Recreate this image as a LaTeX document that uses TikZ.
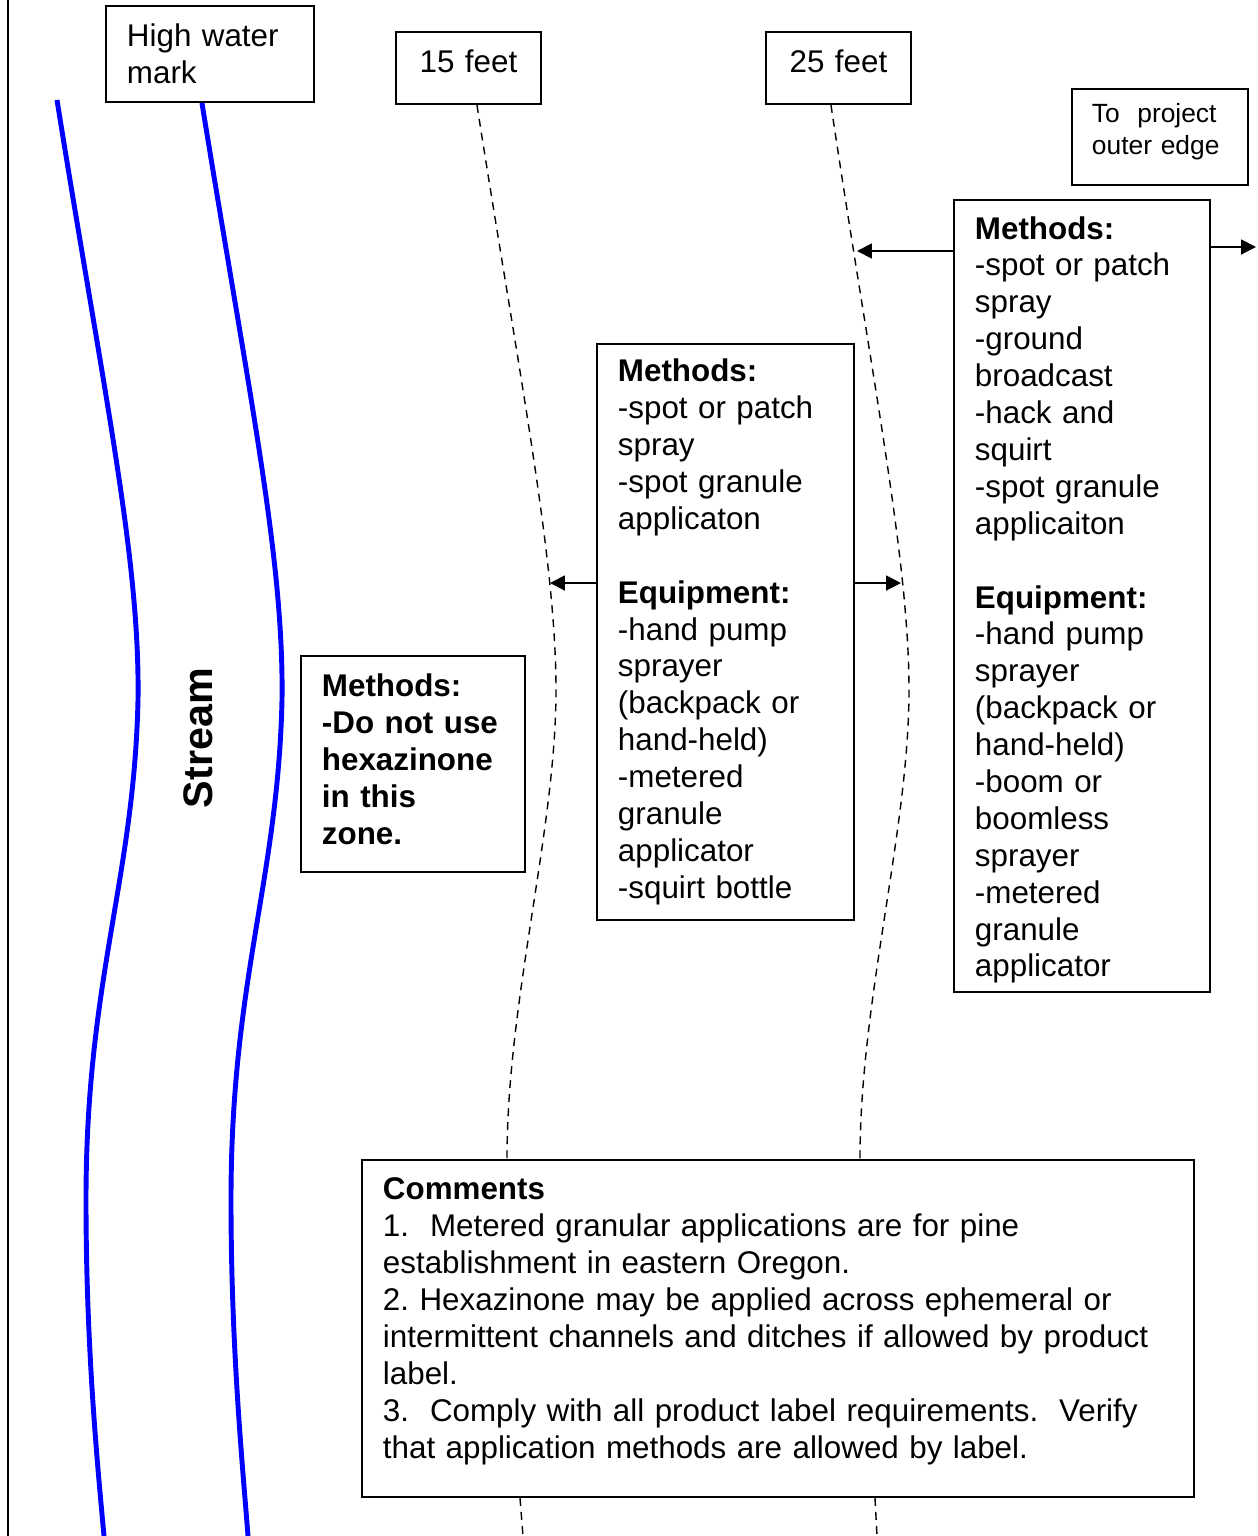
\documentclass[tikz,border=0pt]{standalone}
\usepackage{fontspec}
\setmainfont{Liberation Sans}
\frenchspacing
\usetikzlibrary{arrows.meta,positioning}
\newcommand{\txt}{\fontsize{17.85}{21}\selectfont}

\begin{document}
\begin{tikzpicture}[x=0.02cm, y=-0.02cm,
  box/.style={draw, line width=1.1pt, anchor=north west, align=left, inner xsep=0.42cm, inner ysep=0pt, font=\txt},
  river/.style={blue, line width=2.8pt},
  zone/.style={line width=0.8pt, dash pattern=on 4.5pt off 3.5pt},
  arr/.style={line width=1.1pt, -{Triangle[length=8.5pt, width=8.5pt]}},
]
\useasboundingbox (0,0) rectangle (1258,1536);
% Page frame
\draw[line width=1.1pt] (8,0) -- (8,1536);
% Labels on top
\node[box, text width=3.32cm, minimum height=1.92cm] (hwm) at (105,5) {High water\\mark};
\node[box, align=center, text width=2.06cm, text depth=0.28cm, minimum height=1.44cm] (ft15) at (395,31) {15 feet};
\node[box, align=center, text width=2.06cm, text depth=0.28cm, minimum height=1.44cm] (ft25) at (765,31) {25 feet};
\node[box, font=\fontsize{15}{18}\selectfont, inner xsep=0.4cm, text width=2.72cm, text depth=0.945cm, minimum height=1.92cm] (edge) at (1071,88) {To\ \ project\\outer edge};
% Stream banks
\coordinate (bank) at (57,100);
\draw[river] (bank) .. controls (105,400) and (140,560) .. (138,700) .. controls (134,880) and (86,980) .. (86,1200) .. controls (86,1350) and (98,1470) .. (104,1536);
\draw[river] ([xshift=-0.16cm]hwm.south) .. controls (250,400) and (284,560) .. (282,700) .. controls (278,880) and (231,980) .. (231,1200) .. controls (231,1350) and (243,1470) .. (248,1536);
\node[rotate=90, font=\fontsize{23.5}{28}\selectfont\bfseries] (stream) at (198,738) {Stream};
% Zone boxes
\node[box, font=\txt\bfseries, text width=3.64cm, text depth=3.15cm, minimum height=4.32cm] (near) at (300,655)
  {Methods:\\-Do not use\\hexazinone\\in this\\zone.};
\node[box, text width=4.30cm, minimum height=11.52cm] (mid) at (596,343)
  {\textbf{Methods:}\\-spot or patch\\spray\\-spot granule\\applicaton\\[21pt]
   \textbf{Equipment:}\\-hand pump\\sprayer\\(backpack or\\hand-held)\\-metered\\granule\\applicator\\-squirt bottle};
\node[box, text width=4.28cm, text depth=14.73cm, minimum height=15.84cm] (far) at (953,199)
  {\textbf{Methods:}\\-spot or patch\\spray\\-ground\\broadcast\\-hack and\\squirt\\-spot granule\\applicaiton\\[21pt]
   \textbf{Equipment:}\\-hand pump\\sprayer\\(backpack or\\hand-held)\\-boom or\\boomless\\sprayer\\-metered\\granule\\applicator};
\node[box, text width=15.8cm, text depth=5.58cm, minimum height=6.74cm] (notes) at (361,1159)
  {\textbf{Comments}\\1.\ \ Metered granular applications are for pine\\establishment in eastern Oregon.\\
   2. Hexazinone may be applied across ephemeral or\\intermittent channels and ditches if allowed by product\\label.\\
   3.\ \ Comply with all product label requirements.\ \ Verify\\that application methods are allowed by label.};
% Zone limits
\draw[zone] ([xshift=0.17cm]ft15.south) .. controls (520,380) and (556,560) .. (556,690) .. controls (556,830) and (507,1000) .. (notes.north -| 507,0);
\draw[zone] ([xshift=-0.15cm]ft25.south) .. controls (872,380) and (909,560) .. (909,690) .. controls (909,830) and (860,1000) .. (notes.north -| 860,0);
\coordinate (b15) at (523,1536);
\coordinate (b25) at (877,1536);
\draw[zone] (notes.south -| 520,0) -- (b15);
\draw[zone] (notes.south -| 875,0) -- (b25);
% Arrows to zone limits
\coordinate (m15) at (550,583);
\coordinate (m25) at (901,583);
\coordinate (f25) at (857,251);
\coordinate (fout) at (1256,247);
\draw[arr] (mid.west |- m15) -- (m15);
\draw[arr] (mid.east |- m25) -- (m25);
\draw[arr] (far.west |- f25) -- (f25);
\draw[arr] (far.east |- fout) -- (fout);
\end{tikzpicture}
\end{document}
